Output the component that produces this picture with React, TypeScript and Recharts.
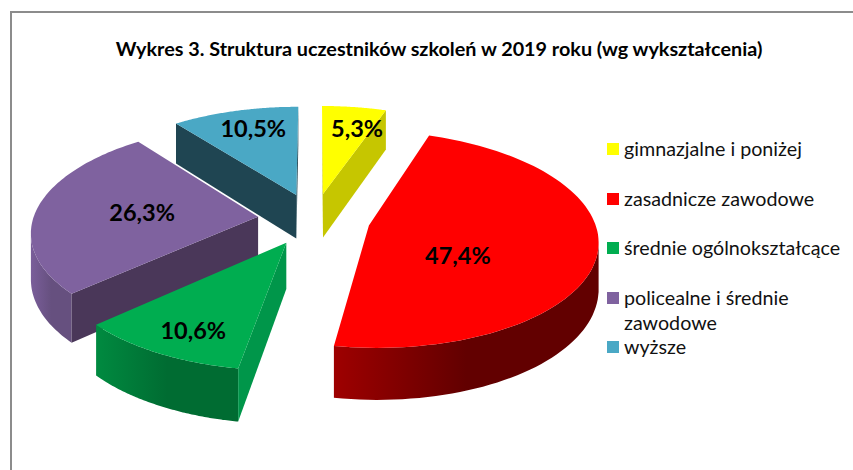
import React from 'react';
import { PieChart, Pie, Legend } from 'recharts';

const categories = [
  'gimnazjalne i poniżej',
  'zasadnicze zawodowe',
  'średnie ogólnokształcące',
  'policealne i średnie zawodowe',
  'wyższe',
];
const shares = [5.3, 47.4, 10.6, 26.3, 10.5];

// top face, straight side wall, curved wall left and right
const topColors = ['#FFFF00', '#FF0000', '#00AD50', '#7F629F', '#4AA8C5'];
const wallColors = ['#C6C600', '#7a0000', '#00964A', '#4A3759', '#1F4552'];
const arcFrom = ['#C6C600', '#9E0000', '#008A40', '#7A5E9A', '#2a6070'];
const arcTo = ['#C6C600', '#620000', '#006C32', '#66507F', '#2a6070'];
// where each percentage sits, measured from the slice tip
const labelOffsets = [
  [34, -66],
  [89, 29],
  [-93, 87],
  [-116, -5],
  [-43, -67],
];

// slices are painted back to front, so the table runs the other way round
const tableData = categories
  .map((name, i) => ({ name, value: shares[i] }))
  .reverse();

const RX = 225;
const RY = 105;
const PERSPECTIVE = 0.127;
const EXPLODE = 0.25;
const DEPTH = 45;
const RAD = Math.PI / 180;

// point on the pie plane -> screen, lift 0 = top face, lift DEPTH = bottom face
const project = (cx: number, cy: number, X: number, Z: number, lift = 0) => {
  const s = 1 / (1 + PERSPECTIVE * Z);
  return [cx + RX * X * s, cy + (-RY * Z + lift) * s];
};

const tipOf = (midTheta: number) => [
  EXPLODE * Math.sin(midTheta * RAD),
  EXPLODE * Math.cos(midTheta * RAD),
];

const toPath = (pts: number[][]) =>
  pts.map((p, i) => `${i ? 'L' : 'M'}${p[0].toFixed(1)} ${p[1].toFixed(1)}`).join(' ') + ' Z';

const SliceShape = (props: any) => {
  const { cx, cy, startAngle, endAngle, name } = props;
  const idx = categories.indexOf(name);
  const t0 = 90 - endAngle;
  const t1 = 90 - startAngle;
  const [tx, tz] = tipOf((t0 + t1) / 2);

  const steps = 90;
  const arcAt = (k: number, lift = 0) => {
    const t = (t0 + ((t1 - t0) * k) / steps) * RAD;
    return project(cx, cy, tx + Math.sin(t), tz + Math.cos(t), lift);
  };
  const top: number[][] = [];
  for (let k = 0; k <= steps; k++) top.push(arcAt(k));
  const tip = project(cx, cy, tx, tz);
  const tipLow = project(cx, cy, tx, tz, DEPTH);

  // curved wall: only the stretch of the rim that runs leftwards faces us
  const arcWall: number[][] = [];
  const arcLow: number[][] = [];
  for (let k = 0; k < steps; k++) {
    if (top[k + 1][0] < top[k][0]) {
      if (!arcWall.length) {
        arcWall.push(top[k]);
        arcLow.push(arcAt(k, DEPTH));
      }
      arcWall.push(top[k + 1]);
      arcLow.push(arcAt(k + 1, DEPTH));
    }
  }

  const walls: number[][][] = [];
  if (top[0][0] < tip[0]) walls.push([tip, top[0], arcAt(0, DEPTH), tipLow]);
  if (tip[0] < top[steps][0]) walls.push([tip, top[steps], arcAt(steps, DEPTH), tipLow]);

  const gradId = `arc-${idx}`;
  return (
    <g>
      <defs>
        <linearGradient id={gradId} x1="0" y1="0" x2="1" y2="0">
          <stop offset="0%" stopColor={arcFrom[idx]} />
          <stop offset="50%" stopColor={arcTo[idx]} />
          <stop offset="100%" stopColor={arcTo[idx]} />
        </linearGradient>
      </defs>
      {arcWall.length > 1 && (
        <path d={toPath([...arcWall, ...arcLow.reverse()])} fill={`url(#${gradId})`} />
      )}
      {walls.map((w, i) => (
        <path key={i} d={toPath(w)} fill={wallColors[idx]} />
      ))}
      <path d={toPath([tip, ...top])} fill={topColors[idx]} />
    </g>
  );
};

const renderLabel = (props: any) => {
  const { cx, cy, midAngle, name, value } = props;
  const idx = categories.indexOf(name);
  const [tx, tz] = tipOf(90 - midAngle);
  const tip = project(cx, cy, tx, tz);
  return (
    <text
      x={tip[0] + labelOffsets[idx][0]}
      y={tip[1] + labelOffsets[idx][1]}
      textAnchor="middle"
      dominantBaseline="central"
      fontFamily="Lato, sans-serif"
      fontWeight={700}
      fontSize={23.5}
      fill="#000"
    >
      {`${value.toFixed(1).replace('.', ',')}%`}
    </text>
  );
};

const legendRows = [
  { idx: 0, top: 136, lines: ['gimnazjalne i poniżej'] },
  { idx: 1, top: 186, lines: ['zasadnicze zawodowe'] },
  { idx: 2, top: 235, lines: ['średnie ogólnokształcące'] },
  { idx: 3, top: 285, lines: ['policealne i średnie', 'zawodowe'] },
  { idx: 4, top: 334, lines: ['wyższe'] },
];

const LegendBox = () => (
  <div style={{ position: 'relative', fontFamily: 'Lato, sans-serif', fontSize: 19.7, color: '#111' }}>
    {legendRows.map((row) => (
      <div key={row.idx} style={{ position: 'absolute', left: 0, top: row.top, lineHeight: '25px' }}>
        <span
          style={{
            position: 'absolute',
            left: 0,
            top: 7,
            width: 12,
            height: 12,
            background: topColors[row.idx],
          }}
        />
        {row.lines.map((l) => (
          <div key={l} style={{ marginLeft: 17, whiteSpace: 'nowrap' }}>
            {l}
          </div>
        ))}
      </div>
    ))}
  </div>
);

export default function App() {
  return (
    <div style={{ position: 'absolute', left: 0, top: 0, width: 853, height: 470, overflow: 'hidden', background: '#fff' }}>
      <div
        style={{
          position: 'absolute',
          left: 10,
          top: 11,
          right: 0,
          bottom: 0,
          borderLeft: '2px solid #8c8c8c',
          borderTop: '2px solid #8c8c8c',
        }}
      />
      <PieChart width={853} height={470} style={{ position: 'absolute', left: 0, top: 0 }}>
        <text
          x={439}
          y={48}
          textAnchor="middle"
          dominantBaseline="central"
          fontFamily="Lato, sans-serif"
          fontWeight={700}
          fontSize={19.8}
          fill="#000"
        >
          Wykres 3. Struktura uczestników szkoleń w 2019 roku (wg wykształcenia)
        </text>
        <Pie
          data={tableData}
          dataKey="value"
          nameKey="name"
          cx={309}
          cy={214}
          outerRadius={RX}
          startAngle={90}
          endAngle={450}
          stroke="none"
          shape={SliceShape}
          label={renderLabel}
          labelLine={false}
          isAnimationActive={false}
        />
        <Legend
          content={<LegendBox />}
          layout="vertical"
          wrapperStyle={{ position: 'absolute', left: 607, top: 0, width: 240, height: 0 }}
        />
      </PieChart>
    </div>
  );
}
